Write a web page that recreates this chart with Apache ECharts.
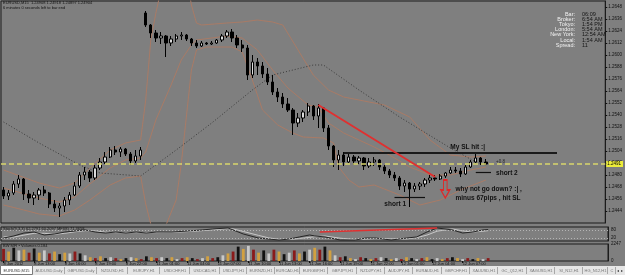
<!DOCTYPE html>
<html>
<head>
<meta charset="utf-8">
<script src="https://cdn.jsdelivr.net/npm/echarts@6/dist/echarts.min.js"></script>
<style>
  html, body { margin: 0; padding: 0; background: #7f7f7f; }
  #chart { width: 625px; height: 275px; }
</style>
</head>
<body>
<div id="chart"></div>
<script>
// EURUSD candles, [open, close, low, high]
const candles = [
  [1.2465,1.2459,1.2456,1.2468],[1.2459,1.2462,1.2455,1.2465],[1.2462,1.2471,1.2460,1.2474],[1.2471,1.2476,1.2467,1.2480],
  [1.2476,1.2461,1.2455,1.2477],[1.2461,1.2457,1.2452,1.2465],[1.2457,1.2460,1.2450,1.2463],[1.2460,1.2465,1.2455,1.2467],
  [1.2465,1.2462,1.2459,1.2469],[1.2462,1.2451,1.2447,1.2463],[1.2451,1.2447,1.2443,1.2455],[1.2447,1.2449,1.2438,1.2452],
  [1.2449,1.2455,1.2443,1.2458],[1.2455,1.2460,1.2450,1.2463],[1.2460,1.2469,1.2459,1.2473],[1.2469,1.2480,1.2467,1.2483],
  [1.2480,1.2483,1.2475,1.2488],[1.2483,1.2477,1.2473,1.2485],[1.2477,1.2487,1.2475,1.2490],[1.2487,1.2493,1.2485,1.2497],
  [1.2493,1.2498,1.2491,1.2503],[1.2498,1.2505,1.2497,1.2508],[1.2505,1.2503,1.2500,1.2509],[1.2503,1.2506,1.2498,1.2508],
  [1.2506,1.2501,1.2499,1.2507],[1.2501,1.2494,1.2490,1.2503],[1.2494,1.2499,1.2492,1.2505],[1.2499,1.2505,1.2495,1.2508],
  [1.2642,1.2630,1.2628,1.2644],[1.2630,1.2622,1.2617,1.2631],[1.2622,1.2617,1.2613,1.2625],[1.2617,1.2619,1.2611,1.2623],
  [1.2619,1.2612,1.2598,1.2620],[1.2612,1.2616,1.2609,1.2619],[1.2616,1.2619,1.2613,1.2621],[1.2619,1.2620,1.2615,1.2623],
  [1.2620,1.2616,1.2614,1.2621],[1.2616,1.2612,1.2609,1.2617],[1.2612,1.2609,1.2607,1.2615],[1.2609,1.2612,1.2608,1.2614],
  [1.2612,1.2611,1.2610,1.2613],[1.2611,1.2612,1.2610,1.2614],[1.2612,1.2615,1.2611,1.2616],[1.2615,1.2619,1.2613,1.2621],
  [1.2619,1.2623,1.2617,1.2625],[1.2623,1.2617,1.2613,1.2626],[1.2617,1.2610,1.2607,1.2620],[1.2610,1.2607,1.2603,1.2615],
  [1.2607,1.2580,1.2575,1.2610],[1.2580,1.2593,1.2577,1.2600],[1.2593,1.2589,1.2580,1.2597],[1.2589,1.2581,1.2577,1.2593],
  [1.2581,1.2573,1.2570,1.2587],[1.2573,1.2563,1.2560,1.2580],[1.2563,1.2558,1.2553,1.2567],[1.2558,1.2551,1.2547,1.2562],
  [1.2551,1.2545,1.2543,1.2557],[1.2545,1.2532,1.2520,1.2547],[1.2532,1.2537,1.2528,1.2542],[1.2537,1.2543,1.2533,1.2545],
  [1.2543,1.2549,1.2539,1.2552],[1.2549,1.2539,1.2535,1.2550],[1.2539,1.2547,1.2527,1.2551],[1.2547,1.2527,1.2523,1.2548],
  [1.2527,1.2509,1.2505,1.2530],[1.2509,1.2495,1.2488,1.2510],[1.2495,1.2500,1.2485,1.2505],[1.2500,1.2493,1.2489,1.2503],
  [1.2493,1.2498,1.2492,1.2501],[1.2498,1.2494,1.2490,1.2500],[1.2494,1.2497,1.2491,1.2499],[1.2497,1.2489,1.2485,1.2498],
  [1.2489,1.2493,1.2487,1.2497],[1.2493,1.2495,1.2489,1.2498],[1.2495,1.2488,1.2485,1.2496],[1.2488,1.2484,1.2481,1.2490],
  [1.2484,1.2480,1.2477,1.2486],[1.2480,1.2477,1.2474,1.2483],[1.2477,1.2469,1.2465,1.2479],[1.2469,1.2472,1.2463,1.2475],
  [1.2472,1.2466,1.2448,1.2473],[1.2466,1.2469,1.2463,1.2472],[1.2469,1.2471,1.2465,1.2473],[1.2471,1.2475,1.2468,1.2477],
  [1.2475,1.2477,1.2472,1.2480],[1.2477,1.2476,1.2474,1.2480],[1.2476,1.2479,1.2475,1.2481],[1.2479,1.2482,1.2477,1.2483],
  [1.2482,1.2485,1.2481,1.2488],[1.2485,1.2484,1.2482,1.2488],[1.2484,1.2481,1.2478,1.2487],[1.2481,1.2488,1.2480,1.2490],
  [1.2488,1.2493,1.2487,1.2495],[1.2493,1.2497,1.2492,1.2502],[1.2497,1.2493,1.2490,1.2498],[1.2493,1.2491,1.2490,1.2496]
];
const emptyBarsRight = 23;

// bar-start labels, one every 6 bars
const dateTicks = ["8 Jun 2012","8 Jun 13:00","8 Jun 16:00","8 Jun 19:00","8 Jun 22:00","11 Jun 01:00","11 Jun 04:00",
  "11 Jun 07:00","11 Jun 10:00","11 Jun 13:00","11 Jun 16:00","11 Jun 19:00","11 Jun 22:00","12 Jun 01:00",
  "12 Jun 04:00","12 Jun 07:00"];

// Bollinger bands + slow MA, [bar index, price]
const bbUpper = [[0,1.2485],[7,1.2472],[11,1.2467],[14,1.2472],[17,1.2487],[21,1.2505],[24,1.2512],[27,1.2515],
  [28,1.2555],[29,1.2615],[30,1.2642],[31,1.2665],[33,1.2685],[35,1.2690],[36,1.2680],[37,1.2650],[38,1.2632],
  [39,1.2630],[44,1.2632],[47,1.2633],[50,1.2635],[53,1.2633],[55,1.2630],[58,1.2605],[61,1.2580],[64,1.2565],
  [67,1.2558],[70,1.2555],[75,1.2550],[80,1.2538],[84,1.2515],[88,1.2500],[92,1.2498],[95,1.2499]];
const bbMiddle = [[0,1.2467],[7,1.2457],[11,1.2453],[14,1.2458],[17,1.2471],[21,1.2487],[24,1.2495],[27,1.2497],
  [28,1.2503],[30,1.2535],[33,1.2570],[35,1.2595],[37,1.2610],[38,1.2615],[44,1.2619],[47,1.2617],[50,1.2605],
  [53,1.2585],[56,1.2567],[60,1.2550],[62,1.2548],[64,1.2532],[67,1.2522],[70,1.2515],[73,1.2508],[76,1.2500],
  [80,1.2488],[84,1.2480],[88,1.2480],[92,1.2485],[95,1.2488]];
const bbLower = [[0,1.2450],[4,1.2445],[7,1.2441],[11,1.2439],[14,1.2445],[17,1.2455],[21,1.2470],[24,1.2477],
  [27,1.2479],[28,1.2451],[29,1.2431],[30,1.2425],[32,1.2430],[34,1.2455],[35,1.2491],[36,1.2538],[37,1.2585],
  [38,1.2605],[40,1.2608],[45,1.2608],[47,1.2603],[49,1.2575],[51,1.2545],[54,1.2530],[57,1.2522],[59,1.2518],
  [63,1.2517],[65,1.2512],[66,1.2488],[68,1.2475],[70,1.2468],[73,1.2470],[78,1.2460],[82,1.2450],[86,1.2455],
  [90,1.2465],[95,1.2475]];
const maSlow = [[0,1.2533],[7,1.2512],[15,1.2490],[19,1.2482],[27,1.2479],[34,1.2505],[41,1.2532],[49,1.2565],
  [53,1.2580],[61,1.2590],[63,1.2590],[70,1.2565],[78,1.2538],[88,1.2507],[93,1.2493],[95,1.2490]];

// hand-drawn objects
const bidPrice = 1.2491;
const slLine = [[67,1.2502],[109,1.2502]];
const short1Line = [[77,1.2458],[83,1.2458]];
const short2Line = [[93,1.2483],[96,1.2483]];
const trendLine = [[62,1.2550],[85,1.2478]];
const notes = [
  { text: "My SL hit :|", at: [88,1.2508] },
  { text: "short 1", at: [75,1.2451] },
  { text: "short 2", at: [97,1.2482] },
  { text: "why not go down? :| ,", at: [89,1.2466] },
  { text: "minus 67pips , hit SL", at: [89,1.2457] }
];
const smallNote = { text: "+0.8", at: [97,1.2493] };
const arrowAt = [87,1.2466];

// Stochastic
const stochK = [[0,21],[2,36],[4,57],[6,64],[8,43],[10,50],[12,64],[14,71],[16,79],[18,64],[20,57],[22,64],[24,57],
  [26,64],[28,57],[30,64],[33,64],[36,71],[39,79],[41,86],[44,93],[45,79],[47,50],[50,21],[52,14],[54,7],[56,14],
  [58,29],[60,43],[61,36],[63,29],[66,7],[69,7],[71,21],[73,21],[76,7],[79,21],[81,29],[83,64],[85,93],[88,79],
  [90,57],[92,64],[94,79],[95,82]];
const stochD = [[0,30],[2,28],[4,42],[6,55],[8,55],[10,48],[12,55],[14,66],[16,74],[18,72],[20,63],[22,60],[24,60],
  [26,60],[28,60],[30,60],[33,62],[36,67],[39,74],[41,80],[44,88],[45,86],[47,68],[50,40],[52,22],[54,12],[56,11],
  [58,18],[61,30],[63,36],[66,20],[69,10],[71,14],[73,18],[76,15],[79,15],[81,24],[83,42],[85,70],[88,86],[90,72],
  [92,64],[94,70],[95,74]];
const stochTrend = [[62,64],[85,93]];
const stochLevels = [80, 20];

// BW MFI volumes
const volumes = [1600,1250,1750,1400,1500,1100,1650, 1100,1400,1000,1250,900,1100,1000, 1250,1000,750,
  500,380,620,380,500,380,250,380,500,380,250, 620,500,380,500, 380,500,250,380,500,380,250,380,620,380,500,
  750,1000,1250, 1900,1600,2000,1500, 1100,1400,1000,1500,1250,900,1100,1400,1000,1250,1500, 1750,1500,1900,1400,
  750,500,620, 380,250,500,380,250,380,500,380,250,380,250,500,380,250,380,500,250,380,250,380,500,380,250,380,
  250,380,250,380];
const volKinds = ("RYKWYRKYWRYKYWRKWYRYKWRYKWYR" + "KYRWKYWRYKRWY" + "RKWYRKYWRYKW" + "RYKWRYKWYRK" +
  "YWRKYWRKYRWKYWRYKWRYKWYRKYWR" + "KYWR").split("");

const infoLabels = ["Bar:", "Broker:", "Tokyo:", "London:", "New York:", "Local:", "Spread:"];
const infoValues = ["06:09", "6:54 AM", "1:54 PM", "5:54 AM", "12:54 AM", "1:54 AM", "11"];
const headerLines = ["EURUSD,M15  1.24908 1.24918 1.24897 1.24904", "6 minutes 0 seconds left to bar end"];
const stochTitle = "Stoch(9,3,3) 62.2791 60.2097 MFI(8) 71.3658";
const volTitle = "BW MFI \u2022 Volumes 0.184";
const tabNames = ["EURUSD,M15","AUDUSD,Daily","GBPUSD,Daily","NZDUSD,H1","EURJPY,H1","USDCHF,H1","USDCAD,H1",
  "USDJPY,H1","EURNZD,H1","EURCAD,H1","EURGBP,H1","GBPJPY,H1","NZDJPY,H1","AUDJPY,H1","EURAUD,H1","GBPCHF,H1",
  "XAUUSD,H1","GC_Q12,H1","XAGUSD,H1","SI_N12,H1","HG_N12,H1","C"];

// ---- layout / styles ----
const FONT = "Liberation Sans";
const tabEdges = [0,33,65,97,128,160,190,220,247,275,300,328,357,385,413,442,470,498,527,555,583,608,616];
const volColor = { R: "#8a1a1a", Y: "#d2a040", W: "#c9c9c9", K: "#111111" };
const bandColor = "#a97b66";
const frame = "#1c1c1c";

const cats = Array.from({ length: candles.length + emptyBarsRight }, (_, i) => i);

const chart = echarts.init(document.getElementById("chart"), null, { renderer: "canvas" });

const seg = (pair, style) => [{ coord: pair[0], lineStyle: style }, { coord: pair[1] }];

const graphics = [];
headerLines.forEach((t, k) => graphics.push({
  type: "text", left: 3, top: 1 + k * 4.5, z: 10,
  style: { text: t, fill: "#111", font: `4px ${FONT}` }
}));
infoLabels.forEach((t, k) => {
  graphics.push({ type: "text", x: 575, y: 14 + k * 5.2, z: 10,
    style: { text: t, fill: "#f2f2f2", font: `5.5px ${FONT}`, align: "right", verticalAlign: "middle" } });
  graphics.push({ type: "text", x: 582, y: 14 + k * 5.2, z: 10,
    style: { text: infoValues[k], fill: "#151515", font: `5.5px ${FONT}`, align: "left", verticalAlign: "middle" } });
});
graphics.push({ type: "text", left: 3, top: 227, z: 10, style: { text: stochTitle, fill: "#111", font: `4px ${FONT}` } });
graphics.push({ type: "text", left: 3, top: 244, z: 10, style: { text: volTitle, fill: "#111", font: `4px ${FONT}` } });

// tab bar
graphics.push({ type: "rect", shape: { x: 0, y: 266, width: 625, height: 9 }, style: { fill: "#e6e6e6" }, z: 5 });
tabNames.forEach((t, k) => {
  const x0 = tabEdges[k], x1 = tabEdges[k + 1];
  if (k === 0) {
    graphics.push({ type: "rect", shape: { x: x0 + 0.5, y: 265.5, width: x1 - x0 - 1, height: 9 },
      style: { fill: "#ffffff", stroke: "#7a7a7a", lineWidth: 1 }, z: 6 });
  } else {
    graphics.push({ type: "line", shape: { x1: x1 - 0.5, y1: 267, x2: x1 - 0.5, y2: 274 },
      style: { stroke: "#a8a8a8", lineWidth: 1 }, z: 6 });
  }
  graphics.push({ type: "text", x: (x0 + x1) / 2, y: 270.5, z: 7,
    style: { text: t, fill: k === 0 ? "#333" : "#777", font: `4px ${FONT}`, align: "center", verticalAlign: "middle" } });
});
graphics.push({ type: "text", x: 620, y: 270.5, z: 7,
  style: { text: "\u25C2 \u25B8", fill: "#333", font: `4px ${FONT}`, align: "center", verticalAlign: "middle" } });

const option = {
  animation: false,
  backgroundColor: "#7f7f7f",
  textStyle: { fontFamily: FONT },
  grid: [
    { left: 1, right: 17, top: 1, height: 222, show: true, borderColor: frame, borderWidth: 1, backgroundColor: "transparent" },
    { left: 1, right: 17, top: 227, height: 14, show: true, borderColor: frame, borderWidth: 1, backgroundColor: "transparent" },
    { left: 1, right: 17, top: 244, height: 17, show: true, borderColor: frame, borderWidth: 1, backgroundColor: "transparent" }
  ],
  xAxis: [0, 1, 2].map((g) => ({
    type: "category", gridIndex: g, data: cats, boundaryGap: true,
    axisLine: { show: false },
    axisTick: g === 2 ? {
      show: true, length: 2, alignWithLabel: true, lineStyle: { color: "#111" },
      interval: (idx) => idx < candles.length && idx % 6 === 0
    } : { show: false },
    axisLabel: g === 2 ? {
      show: true, interval: 5, align: "left", margin: 1, fontSize: 4, color: "#111", fontFamily: FONT,
      formatter: (v, idx) => dateTicks[idx / 6] || ""
    } : { show: false },
    splitLine: { show: false }
  })),
  yAxis: [
    {
      type: "value", gridIndex: 0, position: "right", min: 1.2432, max: 1.2654, interval: 0.0012,
      axisLine: { show: true, lineStyle: { color: frame } },
      axisTick: { show: true, length: 2, lineStyle: { color: "#111" } },
      axisLabel: { fontSize: 4.5, color: "#111", margin: 3, showMaxLabel: false, showMinLabel: false,
        formatter: (v) => v.toFixed(4) },
      splitLine: { show: false }
    },
    {
      type: "value", gridIndex: 1, position: "right", min: 0, max: 100, interval: 20,
      axisLine: { show: true, lineStyle: { color: frame } },
      axisTick: { show: false },
      axisLabel: { fontSize: 4.5, color: "#111", margin: 3,
        formatter: (v) => (stochLevels.indexOf(v) >= 0 ? String(v) : "") },
      splitLine: { show: false }
    },
    {
      type: "value", gridIndex: 2, position: "right", min: 0, max: 2247, interval: 2247,
      axisLine: { show: true, lineStyle: { color: frame } },
      axisTick: { show: false },
      axisLabel: { fontSize: 4.5, color: "#111", margin: 3, formatter: (v) => String(v) },
      splitLine: { show: false }
    }
  ],
  series: [
    ...[bbUpper, bbMiddle, bbLower].map((d) => ({
      type: "line", xAxisIndex: 0, yAxisIndex: 0, data: d, symbol: "none", silent: true, clip: true,
      lineStyle: { color: bandColor, width: 1 }, z: 2
    })),
    {
      type: "line", xAxisIndex: 0, yAxisIndex: 0, data: maSlow, symbol: "none", silent: true, clip: true,
      lineStyle: { color: "#3a3a3a", width: 1, type: [1, 2] }, z: 2
    },
    {
      type: "candlestick", xAxisIndex: 0, yAxisIndex: 0, data: candles, barWidth: 2.8, z: 3,
      itemStyle: { color: "#dcdcdc", color0: "#000000", borderColor: "#000000", borderColor0: "#000000", borderWidth: 1 },
      markLine: {
        silent: true, symbol: ["none", "none"], animation: false, precision: 5,
        label: { show: false },
        data: [
          {
            yAxis: bidPrice,
            lineStyle: { color: "#d9d66c", type: [5, 3], width: 1.5 },
            label: { show: true, position: "end", distance: 1, formatter: bidPrice.toFixed(4),
              backgroundColor: "#eded3a", color: "#000", fontSize: 4.5, padding: [1, 2, 0, 1] }
          },
          seg(slLine, { color: "#1a1a1a", width: 2, type: "solid" }),
          seg(short1Line, { color: "#111", width: 1.2, type: "solid" }),
          seg(short2Line, { color: "#111", width: 1.2, type: "solid" }),
          seg(trendLine, { color: "#e03030", width: 2, type: "solid" })
        ]
      },
      markPoint: {
        silent: true, animation: false,
        data: [
          ...notes.map((n) => ({
            name: n.text, coord: n.at, symbol: "rect", symbolSize: 0,
            label: { show: true, position: "right", distance: 0, formatter: "{b}",
              color: "#111", fontSize: 6.5, fontWeight: "bold", fontFamily: FONT }
          })),
          {
            name: smallNote.text, coord: smallNote.at, symbol: "rect", symbolSize: 0,
            label: { show: true, position: "right", distance: 0, formatter: "{b}", color: "#2a2a2a", fontSize: 4.5 }
          },
          {
            name: "arrow", coord: arrowAt,
            symbol: "path://M3,0 L7,0 L7,10 L10,10 L5,18 L0,10 L3,10 Z", symbolSize: [9, 18],
            itemStyle: { color: "rgba(0,0,0,0)", borderColor: "#e02828", borderWidth: 1.3 },
            label: { show: false }
          }
        ]
      }
    },
    {
      type: "line", xAxisIndex: 1, yAxisIndex: 1, data: stochD, symbol: "none", silent: true,
      lineStyle: { color: "#c8c8c8", width: 1 }
    },
    {
      type: "line", xAxisIndex: 1, yAxisIndex: 1, data: stochK, symbol: "none", silent: true,
      lineStyle: { color: "#262626", width: 1 },
      markLine: {
        silent: true, symbol: ["none", "none"], label: { show: false }, animation: false,
        data: [
          ...stochLevels.map((v) => ({ yAxis: v, lineStyle: { color: "#b5b5b5", type: [1, 2], width: 1 } })),
          seg(stochTrend, { color: "#e03030", width: 1.5, type: "solid" })
        ]
      }
    },
    {
      type: "bar", xAxisIndex: 2, yAxisIndex: 2, barWidth: 2.8, silent: true,
      data: volumes.map((v, i) => ({ value: v, itemStyle: { color: volColor[volKinds[i]] || volColor.W } }))
    }
  ],
  graphic: graphics
};

chart.setOption(option);
</script>
</body>
</html>
